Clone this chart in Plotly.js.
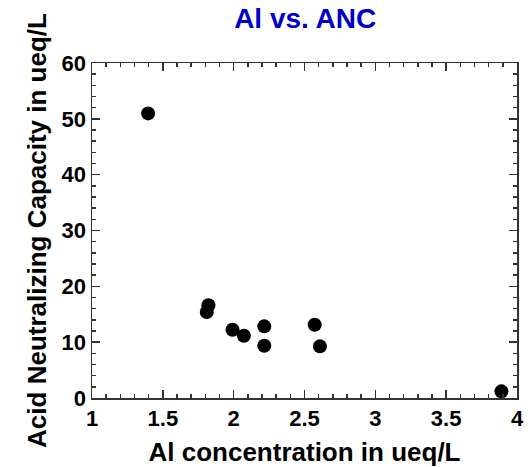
<!DOCTYPE html>
<html>
<head>
<meta charset="utf-8">
<script src="https://cdn.plot.ly/plotly-3.0.1.min.js"></script>
<style>html,body{margin:0;padding:0;background:#fff;}#chart{width:528px;height:467px;}</style>
</head>
<body>
<div id="chart"></div>
<script>
// Aluminium concentration (ueq/L) against acid neutralizing capacity (ueq/L)
const alConc = [1.396, 1.822, 1.81, 1.992, 2.072, 2.216, 2.216, 2.572, 2.609, 3.89];
const anc    = [50.97, 16.6, 15.4, 12.23, 11.16, 12.83, 9.37, 13.13, 9.25, 1.19];

// Major tick positions and their labels
const xTickVals = [1, 1.5, 2, 2.5, 3, 3.5, 4];
const xTickText = ['1', '1.5', '2', '2.5', '3', '3.5', '4'];
const yTickVals = [0, 10, 20, 30, 40, 50, 60];
const yTickText = ['0', '10', '20', '30', '40', '50', '60'];

const font = 'Liberation Sans, Arial, Helvetica, sans-serif';
const axisCommon = {
  showgrid: false,
  zeroline: false,
  showline: true,
  linecolor: '#333',
  linewidth: 1.5,
  mirror: 'allticks',
  ticks: 'inside',
  ticklen: 8,
  tickwidth: 1.5,
  tickcolor: '#333',
  tickmode: 'array',
  tickfont: {family: font, size: 22, color: '#000', weight: 'bold'}
};

const trace = {
  x: alConc,
  y: anc,
  type: 'scatter',
  mode: 'markers',
  marker: {size: 14, color: '#000'},
  hoverinfo: 'x+y'
};

const layout = {
  width: 528,
  height: 467,
  margin: {l: 92, r: 11, t: 63, b: 69},
  paper_bgcolor: '#fff',
  plot_bgcolor: '#fff',
  showlegend: false,
  title: {
    text: '<b>Al vs. ANC</b>',
    font: {family: font, size: 28, color: '#0000cc'},
    x: 0.578, xanchor: 'center',
    y: 0.962, yanchor: 'middle'
  },
  xaxis: Object.assign({}, axisCommon, {
    range: [1, 4],
    tickvals: xTickVals,
    ticktext: xTickText,
    minor: {dtick: 0.1, tick0: 1, ticks: 'inside', ticklen: 4, tickwidth: 1.5, tickcolor: '#333'},
    title: {text: '<b>Al concentration in ueq/L</b>', font: {family: font, size: 26, color: '#000'}, standoff: 13}
  }),
  yaxis: Object.assign({}, axisCommon, {
    range: [0, 60],
    tickvals: yTickVals,
    ticktext: yTickText,
    minor: {dtick: 2, tick0: 0, ticks: 'inside', ticklen: 4, tickwidth: 1.5, tickcolor: '#333'},
    title: {text: '<b>Acid Neutralizing Capacity in ueq/L</b>', font: {family: font, size: 26, color: '#000'}, standoff: 7}
  })
};

Plotly.newPlot('chart', [trace], layout, {staticPlot: true, displayModeBar: false});
</script>
</body>
</html>
